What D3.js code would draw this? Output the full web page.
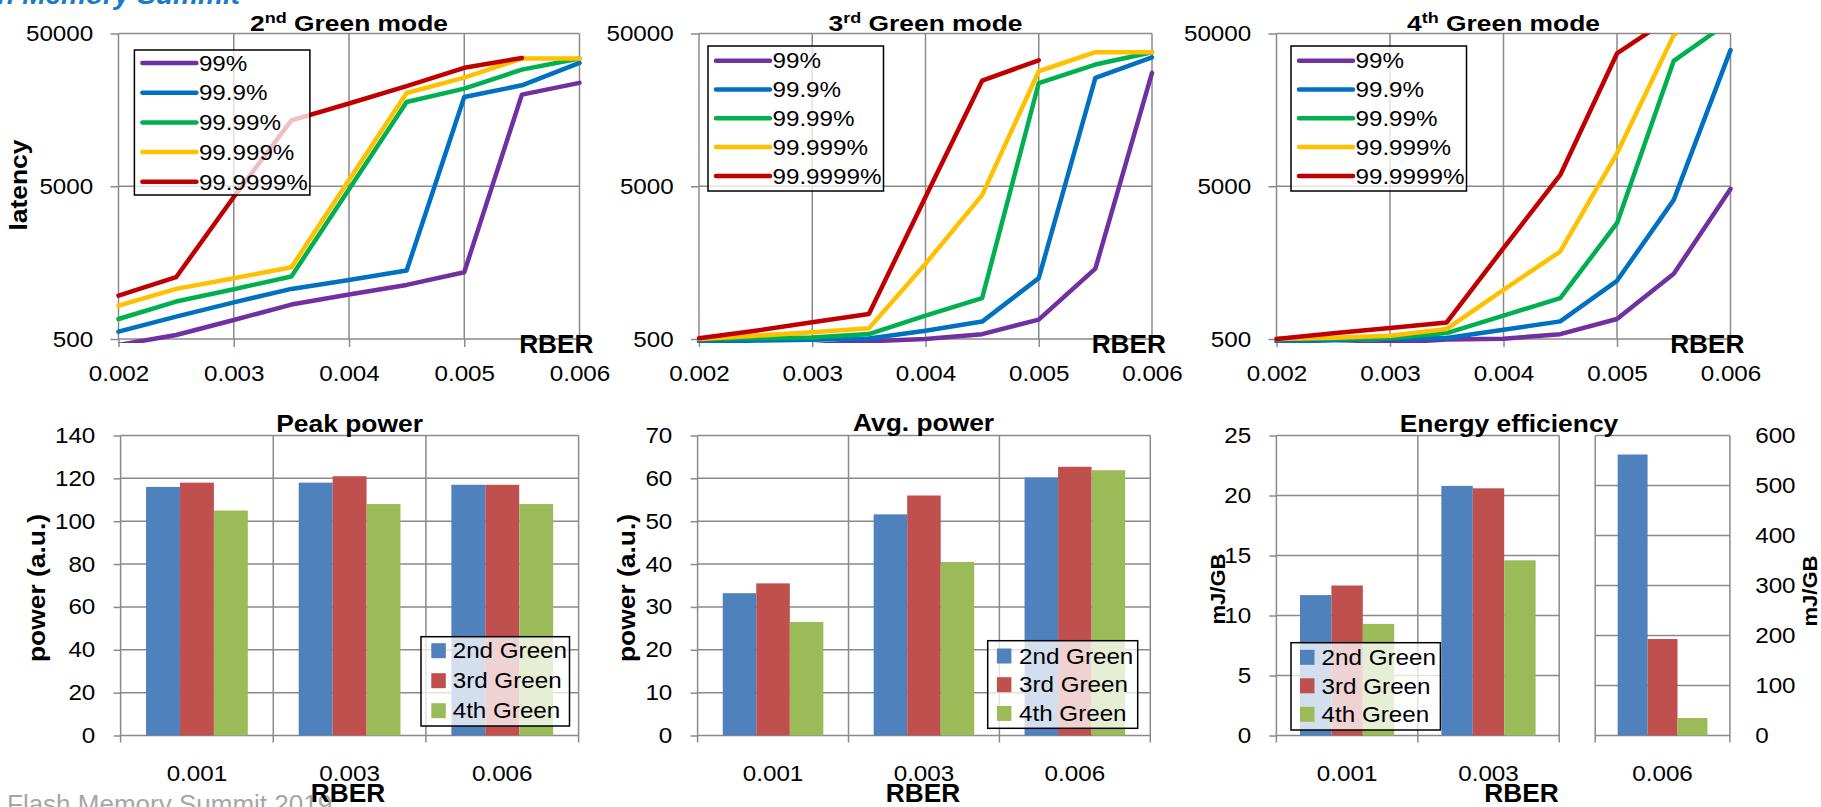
<!DOCTYPE html>
<html lang="en">
<head>
<meta charset="UTF-8">
<title>Green mode latency / power</title>
<script src="https://cdn.jsdelivr.net/npm/d3@7"></script>
<style>
  body { margin: 0; background: #fff; }
  svg { display: block; font-family: "Liberation Sans", Arial, sans-serif; }
</style>
</head>
<body>
<svg id="chart" width="1821" height="807"></svg>
<script>
// ---- latency curves (log scale) ----
var rberPts = [0.002, 0.0025, 0.003, 0.0035, 0.004, 0.0045, 0.005, 0.0055, 0.006];
var rberTicks = [0.002, 0.003, 0.004, 0.005, 0.006];
var latTicks = [500, 5000, 50000];
var pctNames = ["99%", "99.9%", "99.99%", "99.999%", "99.9999%"];
var pctColors = ["#7030A0", "#0070C0", "#00B050", "#FFC000", "#C00000"];

// 2nd Green mode
var lat2_99      = [457, 531, 666, 840, 977, 1130, 1369, 19900, 23760];
var lat2_999     = [559, 700, 869, 1064, 1218, 1403, 19200, 22900, 32100];
var lat2_9999    = [676, 879, 1059, 1282, 4775, 17800, 21800, 29000, 34300];
var lat2_99999   = [827, 1064, 1250, 1476, 5490, 20400, 25700, 34300, 34300];
var lat2_999999  = [962, 1269, 4250, 13500, 17400, 22600, 29800, 34600, null];
// 3rd Green mode
var lat3_99      = [420, 435, 455, 483, 500, 538, 670, 1443, 27600];
var lat3_999     = [480, 488, 495, 503, 567, 650, 1252, 25600, 34900];
var lat3_9999    = [500, 505, 512, 539, 711, 925, 23700, 31300, 37700];
var lat3_99999   = [500, 525, 553, 587, 1555, 4375, 28300, 37700, 37700];
var lat3_999999  = [505, 567, 643, 729, 4250, 24550, 33400, null, null];
// 4th Green mode
var lat4_99      = [440, 455, 470, 497, 502, 538, 676, 1336, 4800];
var lat4_999     = [480, 490, 500, 507, 575, 652, 1202, 4070, 38900];
var lat4_9999    = [500, 502, 507, 547, 711, 927, 2865, 33100, 60500];
var lat4_99999   = [500, 510, 525, 582, 1050, 1870, 8220, 48800, 90000];
var lat4_999999  = [500, 546, 590, 642, 1967, 5930, 37000, 65600, 90000];

// ---- power / energy bars ----
var rberCats = ["0.001", "0.003", "0.006"];
var greenNames = ["2nd Green", "3rd Green", "4th Green"];
var barColors = ["#4F81BD", "#C0504D", "#9BBB59"];

var peak2 = [116, 118, 117];
var peak3 = [118, 121, 117];
var peak4 = [105, 108, 108];
var peakTicks = [0, 20, 40, 60, 80, 100, 120, 140];

var avg2 = [33.2, 51.6, 60.2];
var avg3 = [35.5, 56.0, 62.7];
var avg4 = [26.5, 40.5, 61.9];
var avgTicks = [0, 10, 20, 30, 40, 50, 60, 70];

// the 0.006 values are read on the right axis
var energy2 = [11.7, 20.8, 562];
var energy3 = [12.5, 20.6, 193];
var energy4 = [9.3, 14.6, 35];
var energyTicks = [0, 5, 10, 15, 20, 25];
var energyTicksR = [0, 100, 200, 300, 400, 500, 600];

var svg = d3.select("#chart");
var GRID = "#8a8a8a";
var SX = 1.1;

function label(g, x, y, str, size, opt) {
  opt = opt || {};
  return g.append("text")
    .attr("transform", "translate(" + x + "," + y + ")" + (opt.rot ? " rotate(-90)" : "") +
      " scale(" + (opt.sx || SX) + ",1)")
    .attr("text-anchor", opt.anchor || "middle")
    .attr("font-size", size)
    .attr("font-weight", opt.bold ? "bold" : null)
    .attr("font-style", opt.italic ? "italic" : null)
    .attr("fill", opt.fill || "#000")
    .text(str);
}

function styleAxis(a, size) {
  a.attr("font-size", size || 22).attr("font-family", null);
  a.select(".domain").remove();
  a.selectAll(".tick line").attr("stroke", GRID).attr("stroke-width", 1.5);
  a.selectAll(".tick text").attr("fill", "#000").attr("transform", "scale(" + SX + ",1)");
}

// header / footer leftovers of the slide
label(svg, 240, 4, "Flash Memory Summit", 28, { anchor: "end", fill: "#1a7cc5", sx: 1, italic: true, bold: true });
label(svg, 7, 813, "Flash Memory Summit 2019", 26, { anchor: "start", fill: "#a6a6a6", sx: 1 });

// ---------- latency charts ----------
var latTop = 33.5, latBottom = 339;

var latCharts = [
  { id: "a", num: "2", sup: "nd", left: 118.5, right: 579.5, legX: 134.4, legY: 50, legRow: 63, legStep: 29.7,
    series: [lat2_99, lat2_999, lat2_9999, lat2_99999, lat2_999999] },
  { id: "b", num: "3", sup: "rd", left: 699, right: 1152, legX: 708, legY: 46, legRow: 60.7, legStep: 28.8,
    series: [lat3_99, lat3_999, lat3_9999, lat3_99999, lat3_999999] },
  { id: "c", num: "4", sup: "th", left: 1276.5, right: 1730.5, legX: 1291, legY: 46, legRow: 60.7, legStep: 28.8,
    series: [lat4_99, lat4_999, lat4_9999, lat4_99999, lat4_999999] }
];

latCharts.forEach(function (cfg) {
  var g = svg.append("g");
  var x = d3.scaleLinear().domain([0.002, 0.006]).range([cfg.left, cfg.right]);
  var y = d3.scaleLog().domain([500, 50000]).range([latBottom, latTop]);

  g.selectAll(".vg").data(rberTicks).join("line").attr("class", "vg")
    .attr("x1", x).attr("x2", x).attr("y1", latTop).attr("y2", latBottom)
    .attr("stroke", GRID).attr("stroke-width", 1.5);
  g.selectAll(".hg").data(latTicks).join("line").attr("class", "hg")
    .attr("x1", cfg.left).attr("x2", cfg.right).attr("y1", y).attr("y2", y)
    .attr("stroke", GRID).attr("stroke-width", 1.5);

  var ax = g.append("g").attr("transform", "translate(0," + latBottom + ")")
    .call(d3.axisBottom(x).tickValues(rberTicks).tickSize(8).tickPadding(18).tickFormat(d3.format(".3f")));
  styleAxis(ax);
  var ay = g.append("g").attr("transform", "translate(" + cfg.left + ",0)")
    .call(d3.axisLeft(y).tickValues(latTicks).tickSize(8).tickPadding(15).tickFormat(d3.format("d")));
  styleAxis(ay);

  svg.append("clipPath").attr("id", "clip" + cfg.id).append("rect")
    .attr("x", cfg.left - 3).attr("y", latTop)
    .attr("width", cfg.right - cfg.left + 6).attr("height", latBottom - latTop + 4);

  var line = d3.line()
    .defined(function (d) { return d[1] != null; })
    .x(function (d) { return x(d[0]); })
    .y(function (d) { return y(d[1]); });

  g.append("g").attr("clip-path", "url(#clip" + cfg.id + ")")
    .selectAll("path").data(cfg.series).join("path")
    .attr("d", function (s) { return line(rberPts.map(function (r, i) { return [r, s[i]]; })); })
    .attr("fill", "none")
    .attr("stroke", function (s, i) { return pctColors[i]; })
    .attr("stroke-width", 4.5)
    .attr("stroke-linejoin", "round")
    .attr("stroke-linecap", "round");

  // legend
  var lg = g.append("g");
  lg.append("rect").attr("x", cfg.legX).attr("y", cfg.legY).attr("width", 175.5).attr("height", 145)
    .attr("fill", "#fff").attr("fill-opacity", 0.75).attr("stroke", "#000").attr("stroke-width", 1.5);
  pctNames.forEach(function (n, i) {
    var cy = cfg.legRow + i * cfg.legStep;
    lg.append("line").attr("x1", cfg.legX + 8).attr("x2", cfg.legX + 62).attr("y1", cy).attr("y2", cy)
      .attr("stroke", pctColors[i]).attr("stroke-width", 4.5).attr("stroke-linecap", "round");
    label(lg, cfg.legX + 64.5, cy + 7.7, n, 22, { anchor: "start" });
  });

  // title with superscript
  var tt = g.append("text")
    .attr("transform", "translate(" + ((cfg.left + cfg.right) / 2) + ",31) scale(1.2,1)")
    .attr("text-anchor", "middle").attr("font-weight", "bold").attr("font-size", 22);
  tt.append("tspan").text(cfg.num);
  tt.append("tspan").attr("font-size", 15).attr("dy", -8).text(cfg.sup);
  tt.append("tspan").attr("dy", 8).text(" Green mode");

  label(g, cfg.right + 14, 353, "RBER", 25, { anchor: "end", bold: true, sx: 1.05 });
});

label(svg, 27, 185, "latency", 24, { bold: true, rot: true });

// ---------- bar charts ----------
var barTop = 435.5, barBottom = 735.5;

function barPanel(cfg) {
  var g = svg.append("g");
  var x0 = d3.scaleBand().domain(cfg.cats).range([cfg.left, cfg.right]);
  var x1 = d3.scaleBand().domain(greenNames).range([0, x0.bandwidth()]).paddingOuter(0.75);
  var y = d3.scaleLinear().domain([0, d3.max(cfg.ticks)]).range([barBottom, barTop]);

  var bounds = cfg.cats.map(function (c) { return x0(c); }).concat([cfg.right]);
  g.selectAll(".vg").data(bounds).join("line").attr("class", "vg")
    .attr("x1", function (d) { return d; }).attr("x2", function (d) { return d; })
    .attr("y1", barTop).attr("y2", barBottom + 7)
    .attr("stroke", GRID).attr("stroke-width", 1.5);
  g.selectAll(".hg").data(cfg.ticks).join("line").attr("class", "hg")
    .attr("x1", cfg.left).attr("x2", cfg.right).attr("y1", y).attr("y2", y)
    .attr("stroke", GRID).attr("stroke-width", 1.5);

  if (cfg.axis === "left") {
    var ay = g.append("g").attr("transform", "translate(" + cfg.left + ",0)")
      .call(d3.axisLeft(y).tickValues(cfg.ticks).tickSize(7).tickPadding(16));
    styleAxis(ay);
  } else {
    var ar = g.append("g").attr("transform", "translate(" + cfg.right + ",0)")
      .call(d3.axisRight(y).tickValues(cfg.ticks).tickSize(0).tickPadding(23));
    styleAxis(ar);
  }
  var ax = g.append("g").attr("transform", "translate(0," + barBottom + ")")
    .call(d3.axisBottom(x0).tickSize(0).tickPadding(29.5));
  styleAxis(ax);

  var cells = [];
  cfg.cats.forEach(function (c, i) {
    greenNames.forEach(function (s, j) { cells.push({ cat: c, s: s, v: cfg.vals[j][i], j: j }); });
  });
  g.selectAll("rect.bar").data(cells).join("rect").attr("class", "bar")
    .attr("x", function (d) { return x0(d.cat) + x1(d.s); })
    .attr("width", x1.bandwidth())
    .attr("y", function (d) { return y(d.v); })
    .attr("height", function (d) { return barBottom - y(d.v); })
    .attr("fill", function (d) { return barColors[d.j]; });
  return g;
}

function barLegend(bx, by, bw, bh, row0, step, swX, txX) {
  var lg = svg.append("g");
  lg.append("rect").attr("x", bx).attr("y", by).attr("width", bw).attr("height", bh)
    .attr("fill", "#fff").attr("fill-opacity", 0.75).attr("stroke", "#000").attr("stroke-width", 1.5);
  greenNames.forEach(function (n, i) {
    var cy = row0 + i * step;
    lg.append("rect").attr("x", swX).attr("y", cy - 7.5).attr("width", 14.5).attr("height", 15)
      .attr("fill", barColors[i]);
    label(lg, txX, cy + 7.7, n, 22, { anchor: "start" });
  });
}

// Peak power
barPanel({ left: 120.6, right: 578.6, cats: rberCats, vals: [peak2, peak3, peak4], ticks: peakTicks, axis: "left" });
barLegend(421, 636.7, 148.5, 89.3, 650.7, 30, 431.3, 452.7);
label(svg, 349.6, 432, "Peak power", 24, { bold: true });
label(svg, 44.8, 588, "power (a.u.)", 24, { bold: true, rot: true });
label(svg, 348, 801.5, "RBER", 25, { bold: true, sx: 1.05 });

// Avg. power
barPanel({ left: 697.6, right: 1150.3, cats: rberCats, vals: [avg2, avg3, avg4], ticks: avgTicks, axis: "left" });
barLegend(987.7, 640.7, 150, 87.6, 656, 28.7, 996.9, 1019);
label(svg, 923.5, 431, "Avg. power", 24, { bold: true });
label(svg, 635, 588, "power (a.u.)", 24, { bold: true, rot: true });
label(svg, 923, 801.5, "RBER", 25, { bold: true, sx: 1.05 });

// Energy efficiency: two panels, 0.006 on its own right axis
barPanel({ left: 1276.4, right: 1559.2, cats: rberCats.slice(0, 2),
  vals: [energy2.slice(0, 2), energy3.slice(0, 2), energy4.slice(0, 2)], ticks: energyTicks, axis: "left" });
barPanel({ left: 1595.2, right: 1729.9, cats: rberCats.slice(2),
  vals: [energy2.slice(2), energy3.slice(2), energy4.slice(2)], ticks: energyTicksR, axis: "right" });
barLegend(1291, 642.7, 149.4, 87.3, 657.3, 28.5, 1300, 1321.6);
label(svg, 1509, 432, "Energy efficiency", 24, { bold: true });
label(svg, 1225, 589, "mJ/GB", 20, { bold: true, rot: true });
label(svg, 1817, 591, "mJ/GB", 20, { bold: true, rot: true });
label(svg, 1521.5, 801.5, "RBER", 25, { bold: true, sx: 1.05 });
</script>
</body>
</html>
